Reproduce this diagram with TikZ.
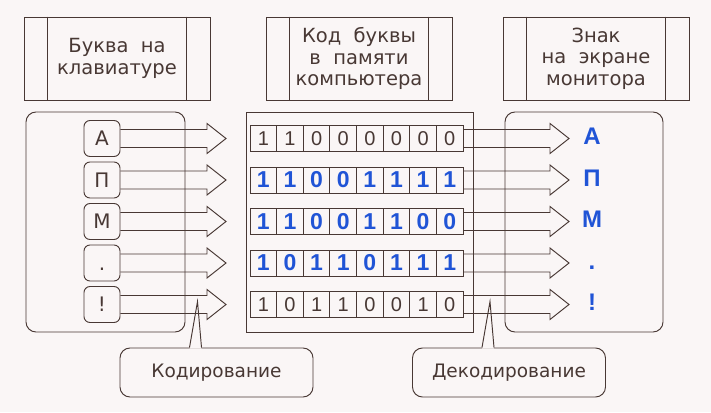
\documentclass[tikz,border=0pt]{standalone}
\usepackage{fontspec}
\setmainfont{DejaVu Sans}
\newfontfamily\digitfont{Liberation Sans}
\usetikzlibrary{calc,positioning}
\definecolor{ink}{RGB}{72,56,52}
\definecolor{paper}{RGB}{250,246,246}
\definecolor{bitblue}{RGB}{32,84,214}

% block arrow from a node anchor to a tip coordinate
\newcommand{\blockarrow}[2]{%
  \draw ($(#1)+(0,-9)$) -- ($(#2)+(-19,-9)$) -- ($(#2)+(-19,-15)$) -- (#2)
    -- ($(#2)+(-19,15)$) -- ($(#2)+(-19,9)$) -- ($(#1)+(0,9)$);}
% pointer of a callout
\newcommand{\calltail}[1]{%
  \fill[paper] ($(#1.north)+(-27,1)$) -- ($(#1.north)+(-19,-46)$) -- ($(#1.north)+(-15,1)$) -- cycle;
  \draw ($(#1.north)+(-27,0)$) -- ($(#1.north)+(-19,-46)$) -- ($(#1.north)+(-15,0)$);}

\begin{document}
\begin{tikzpicture}[x=1pt, y=-1pt, line width=0.95pt, color=ink,
    head/.style = {draw, minimum width=186, minimum height=83, align=center,
      font=\fontsize{19.5}{21.5}\selectfont},
    box/.style = {draw, minimum height=220},
    key/.style = {draw, rounded corners=6, minimum size=36, text height=14, text depth=0,
      font=\fontsize{20}{20}\selectfont},
    bit/.style = {draw, minimum width=26.625, minimum height=26, inner sep=0},
    sign/.style = {text=bitblue, text height=17, text depth=0,
      font=\digitfont\fontsize{24}{24}\selectfont\bfseries},
    callout/.style = {draw, fill=paper, rounded corners=10, minimum width=193,
      minimum height=49, font=\fontsize{18.5}{18.5}\selectfont}]
  \fill[paper] (0,0) rectangle (711,412);
  \useasboundingbox (0,0) rectangle (711,412);

  % headings
  \node [head] (hkey) at (117,58.5) {Буква\ \ на\\клавиатуре};
  \node [head] (hcode) at (359,58.5) {Код\ \ буквы\\в\ \ памяти\\компьютера};
  \node [head] (hscreen) at (596,58.5) {Знак\\на\ \ экране\\монитора};
  \foreach \h in {hkey,hcode,hscreen} {
    \draw ($(\h.north west)+(24,0)$) -- ($(\h.south west)+(24,0)$);
    \draw ($(\h.north east)+(-24,0)$) -- ($(\h.south east)+(-24,0)$);
  }

  % three fields
  \node [box, rounded corners=10, minimum width=159] (keyboard) at (105.5,222) {};
  \node [box, minimum width=227] (memory) at (359.5,222) {};
  \node [box, rounded corners=10, minimum width=158] (monitor) at (584,222) {};

  % callouts
  \node [callout] (enc) at (216.5,372.5) {Кодирование};
  \node [callout] (dec) at (509,372.5) {Декодирование};
  \calltail{enc}
  \calltail{dec}

  % keys
  \foreach \c [count=\i] in {А,П,М,.,!}
    \node [key] (k\i) at (102,{138.5+41.5*(\i-1)}) {\c};

  % codes
  \foreach \bits/\bitcol/\bitwt [count=\i] in {
      {1,1,0,0,0,0,0,0}/ink/\fontsize{20}{20}\selectfont,
      {1,1,0,0,1,1,1,1}/bitblue/\fontsize{23}{23}\selectfont\bfseries,
      {1,1,0,0,1,1,0,0}/bitblue/\fontsize{23}{23}\selectfont\bfseries,
      {1,0,1,1,0,1,1,1}/bitblue/\fontsize{23}{23}\selectfont\bfseries,
      {1,0,1,1,0,0,1,0}/ink/\fontsize{20}{20}\selectfont}
    \foreach \b [count=\j] in \bits
      \node [bit, text=\bitcol] (r\i-\j) at ({250+26.625*(\j-0.5)},{138.5+41.5*(\i-1)}) {\digitfont\bitwt\b};

  % signs on the screen
  \foreach \c [count=\i] in {А,П,М,.,!}
    \node [sign] (s\i) at (592,{136+41.5*(\i-1)}) {\c};

  % arrows
  \foreach \i in {1,...,5} {
    \coordinate (in\i) at (226,{138.5+41.5*(\i-1)});
    \coordinate (out\i) at (569,{138.5+41.5*(\i-1)});
    \blockarrow{k\i.east}{in\i}
    \blockarrow{r\i-8.east}{out\i}
  }
\end{tikzpicture}
\end{document}
